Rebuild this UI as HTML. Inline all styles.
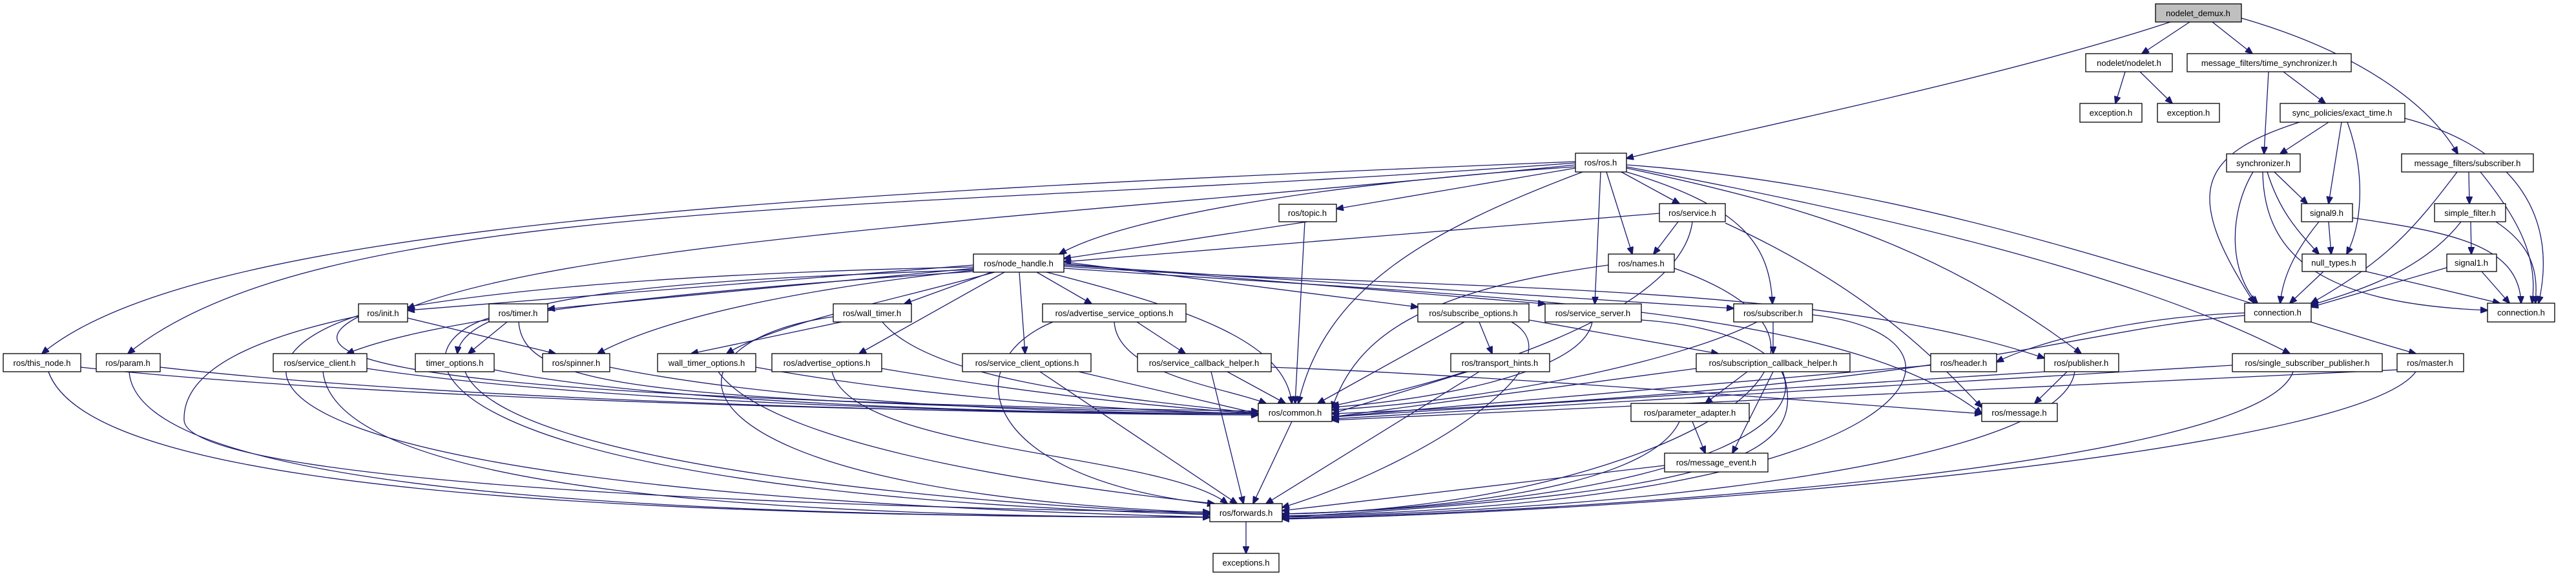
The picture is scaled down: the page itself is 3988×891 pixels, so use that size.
<!DOCTYPE html>
<html><head><meta charset="utf-8"><style>
html,body{margin:0;padding:0;background:#fff;}
svg{display:block;}
text{font-family:"Liberation Sans",sans-serif;font-size:13px;fill:#000;}
.n{fill:#fff;stroke:#000;stroke-width:1.3;}
.e{fill:none;stroke:#191970;stroke-width:1.3;}
</style></head><body>
<svg width="3988" height="891" viewBox="0 0 3988 891" xmlns="http://www.w3.org/2000/svg">
<defs><marker id="a" markerWidth="12" markerHeight="10" refX="11" refY="5" orient="auto" markerUnits="userSpaceOnUse"><path d="M0,0 L12,5 L0,10 z" fill="#191970" stroke="#191970"/></marker></defs>
<g class="e" marker-end="url(#a)">
<path d="M3360,34 C3100,120 2700,200 2518,245"/>
<path d="M3390,34 L3316,83"/>
<path d="M3425,34 L3487,83"/>
<path d="M3470,28 C3650,80 3760,160 3805,238"/>
<path d="M3290,111 L3275,160"/>
<path d="M3313,111 L3363,160"/>
<path d="M3512,111 L3505,238"/>
<path d="M3535,111 L3600,160"/>
<path d="M3605,189 L3530,238"/>
<path d="M3625,189 L3605,315"/>
<path d="M3634,189 C3660,260 3660,340 3633,393"/>
<path d="M3560,189 C3400,240 3380,300 3490,469"/>
<path d="M3723,183 C3900,230 3960,340 3930,469"/>
<path d="M3488,266 C3450,330 3450,420 3495,469"/>
<path d="M3521,266 L3572,315"/>
<path d="M3510,266 C3530,330 3560,360 3590,393"/>
<path d="M3503,266 C3505,400 3600,470 3851,480"/>
<path d="M3590,343 C3560,380 3535,420 3530,469"/>
<path d="M3605,343 L3609,393"/>
<path d="M3642,337 C3800,360 3900,380 3903,469"/>
<path d="M3597,420 L3545,469"/>
<path d="M3663,420 L3870,469"/>
<path d="M3804,266 C3740,350 3700,400 3578,469"/>
<path d="M3822,266 L3823,315"/>
<path d="M3840,266 C3900,340 3930,400 3920,469"/>
<path d="M3810,343 C3750,420 3650,450 3578,472"/>
<path d="M3825,343 L3826,393"/>
<path d="M3864,343 C3920,380 3930,420 3925,469"/>
<path d="M3788,414 L3578,475"/>
<path d="M3842,420 L3885,469"/>
<path d="M3475,484 C3300,490 3150,530 3091,560"/>
<path d="M3475,488 C3200,510 3050,600 2062,640"/>
<path d="M2439,250 C1200,300 300,350 65,547"/>
<path d="M2439,252 C1400,330 500,300 198,547"/>
<path d="M2439,255 C1700,330 900,370 631,477"/>
<path d="M2439,258 C2100,280 1750,330 1640,393"/>
<path d="M2439,260 L2069,323"/>
<path d="M2450,266 C2200,360 2050,450 2010,624"/>
<path d="M2487,266 L2527,393"/>
<path d="M2510,266 L2600,315"/>
<path d="M2478,266 L2469,470"/>
<path d="M2518,266 C2700,320 2740,380 2744,470"/>
<path d="M2518,260 C2800,320 3000,380 3222,547"/>
<path d="M2518,258 C2900,330 3300,420 3545,547"/>
<path d="M2518,255 C3000,290 3400,450 3740,547"/>
<path d="M2024,343 L1647,400"/>
<path d="M2020,343 L2005,624"/>
<path d="M2569,330 L1647,405"/>
<path d="M2598,343 L2560,393"/>
<path d="M2620,343 C2600,500 2200,600 2062,628"/>
<path d="M2671,345 C2900,450 3000,560 3068,630"/>
<path d="M2490,410 C2200,450 2100,520 2062,632"/>
<path d="M2592,415 C3000,560 2500,790 1985,795"/>
<path d="M1507,410 L631,480"/>
<path d="M1507,413 C700,430 280,500 285,650 C290,760 1500,790 1873,792"/>
<path d="M1507,415 L848,478"/>
<path d="M1507,417 C1200,430 720,440 708,547"/>
<path d="M1507,418 C1300,440 1050,480 925,547"/>
<path d="M1507,420 C1200,440 700,480 537,547"/>
<path d="M1535,421 L1400,470"/>
<path d="M1540,421 C1400,460 1200,500 1125,547"/>
<path d="M1555,421 L1330,547"/>
<path d="M1578,421 L1587,547"/>
<path d="M1605,421 L1690,470"/>
<path d="M1620,421 C1850,480 1990,530 2000,624"/>
<path d="M1647,405 L2195,475"/>
<path d="M1647,408 L2392,470"/>
<path d="M1647,410 L2684,477"/>
<path d="M1647,412 C2200,450 2800,430 3165,554"/>
<path d="M1647,415 C2300,460 2850,470 3068,640"/>
<path d="M555,488 C330,560 300,760 1873,800"/>
<path d="M555,490 C380,580 900,620 1948,636"/>
<path d="M631,492 L860,547"/>
<path d="M757,492 C600,540 620,760 1873,796"/>
<path d="M785,498 L725,547"/>
<path d="M803,498 C810,600 1000,620 1948,640"/>
<path d="M1303,498 L1070,547"/>
<path d="M1290,490 C1000,530 1000,760 1873,793"/>
<path d="M1366,498 C1450,600 1800,620 1948,640"/>
<path d="M1630,498 C1480,560 1510,740 1880,780"/>
<path d="M1725,498 C1730,580 1900,600 1960,624"/>
<path d="M1760,498 L1835,547"/>
<path d="M2267,498 L2040,624"/>
<path d="M2290,498 L2310,547"/>
<path d="M2340,498 C2450,560 2200,720 1985,785"/>
<path d="M2367,495 L2660,547"/>
<path d="M2465,498 C2450,580 2200,620 2062,630"/>
<path d="M2541,495 C2900,520 2900,770 1985,795"/>
<path d="M2720,498 C2600,560 2300,620 2062,634"/>
<path d="M2745,498 L2745,547"/>
<path d="M2806,487 C3100,520 3000,780 1985,798"/>
<path d="M75,575 C120,700 500,800 1873,800"/>
<path d="M125,568 C600,620 1500,640 1948,640"/>
<path d="M200,575 C210,720 700,800 1873,800"/>
<path d="M248,568 C700,620 1500,640 1948,642"/>
<path d="M500,575 C520,760 1200,800 1873,800"/>
<path d="M568,570 C900,620 1500,640 1948,640"/>
<path d="M720,575 C780,720 1500,780 1873,795"/>
<path d="M765,572 C1000,620 1500,640 1948,640"/>
<path d="M944,568 C1200,620 1600,640 1948,640"/>
<path d="M1112,575 C1200,700 1700,760 1880,779"/>
<path d="M1170,568 C1400,610 1700,635 1948,640"/>
<path d="M1288,575 C1320,700 1800,700 1900,779"/>
<path d="M1365,570 C1600,610 1800,630 1948,640"/>
<path d="M1610,575 L1915,779"/>
<path d="M1670,575 L1948,640"/>
<path d="M1875,575 L1925,779"/>
<path d="M1900,575 L1990,624"/>
<path d="M1968,568 C2300,580 2800,620 3068,640"/>
<path d="M2272,575 L2062,640"/>
<path d="M2290,575 L1960,779"/>
<path d="M2626,570 L2062,645"/>
<path d="M2705,575 L2640,624"/>
<path d="M2745,575 L2682,701"/>
<path d="M2760,575 C2800,700 2700,760 1985,800"/>
<path d="M2989,565 L2062,645"/>
<path d="M3165,575 L2062,645"/>
<path d="M3200,575 L3150,624"/>
<path d="M3212,575 C3190,720 2500,790 1985,800"/>
<path d="M3456,565 L2062,648"/>
<path d="M3550,575 C3500,720 2500,790 1985,802"/>
<path d="M3711,572 L2062,650"/>
<path d="M3740,575 C3650,700 2600,790 1985,803"/>
<path d="M2000,652 L1940,779"/>
<path d="M2620,652 L2640,701"/>
<path d="M2600,652 C2550,760 2200,790 1985,795"/>
<path d="M2577,720 L1985,790"/>
<path d="M1929,807 L1929,856"/>
</g>
<g>
<rect class="n" x="3337" y="6" width="133" height="28" style="fill:#bfbfbf"/><text x="3403" y="25" text-anchor="middle">nodelet_demux.h</text>
<rect class="n" x="3229" y="83" width="134" height="28"/><text x="3296" y="102" text-anchor="middle">nodelet/nodelet.h</text>
<rect class="n" x="3386" y="83" width="254" height="28"/><text x="3513" y="102" text-anchor="middle">message_filters/time_synchronizer.h</text>
<rect class="n" x="3220" y="160" width="96" height="29"/><text x="3268" y="179" text-anchor="middle">exception.h</text>
<rect class="n" x="3340" y="160" width="96" height="29"/><text x="3388" y="179" text-anchor="middle">exception.h</text>
<rect class="n" x="3530" y="160" width="193" height="29"/><text x="3626" y="179" text-anchor="middle">sync_policies/exact_time.h</text>
<rect class="n" x="3447" y="238" width="114" height="28"/><text x="3504" y="257" text-anchor="middle">synchronizer.h</text>
<rect class="n" x="3718" y="238" width="204" height="28"/><text x="3820" y="257" text-anchor="middle">message_filters/subscriber.h</text>
<rect class="n" x="3563" y="315" width="79" height="28"/><text x="3602" y="334" text-anchor="middle">signal9.h</text>
<rect class="n" x="3769" y="315" width="110" height="28"/><text x="3824" y="334" text-anchor="middle">simple_filter.h</text>
<rect class="n" x="3564" y="393" width="99" height="27"/><text x="3613" y="411" text-anchor="middle">null_types.h</text>
<rect class="n" x="3788" y="393" width="77" height="27"/><text x="3826" y="411" text-anchor="middle">signal1.h</text>
<rect class="n" x="3475" y="469" width="103" height="29"/><text x="3526" y="488" text-anchor="middle">connection.h</text>
<rect class="n" x="3851" y="469" width="104" height="29"/><text x="3903" y="488" text-anchor="middle">connection.h</text>
<rect class="n" x="2439" y="237" width="79" height="29"/><text x="2478" y="256" text-anchor="middle">ros/ros.h</text>
<rect class="n" x="1980" y="316" width="89" height="27"/><text x="2024" y="334" text-anchor="middle">ros/topic.h</text>
<rect class="n" x="2569" y="315" width="102" height="28"/><text x="2620" y="334" text-anchor="middle">ros/service.h</text>
<rect class="n" x="2490" y="393" width="102" height="28"/><text x="2541" y="412" text-anchor="middle">ros/names.h</text>
<rect class="n" x="1507" y="393" width="140" height="28"/><text x="1577" y="412" text-anchor="middle">ros/node_handle.h</text>
<rect class="n" x="555" y="470" width="76" height="28"/><text x="593" y="489" text-anchor="middle">ros/init.h</text>
<rect class="n" x="757" y="470" width="91" height="28"/><text x="802" y="489" text-anchor="middle">ros/timer.h</text>
<rect class="n" x="1290" y="470" width="121" height="28"/><text x="1350" y="489" text-anchor="middle">ros/wall_timer.h</text>
<rect class="n" x="1614" y="470" width="222" height="28"/><text x="1725" y="489" text-anchor="middle">ros/advertise_service_options.h</text>
<rect class="n" x="2195" y="470" width="172" height="28"/><text x="2281" y="489" text-anchor="middle">ros/subscribe_options.h</text>
<rect class="n" x="2392" y="470" width="149" height="28"/><text x="2466" y="489" text-anchor="middle">ros/service_server.h</text>
<rect class="n" x="2684" y="470" width="122" height="28"/><text x="2745" y="489" text-anchor="middle">ros/subscriber.h</text>
<rect class="n" x="5" y="547" width="120" height="28"/><text x="65" y="566" text-anchor="middle">ros/this_node.h</text>
<rect class="n" x="149" y="547" width="99" height="28"/><text x="198" y="566" text-anchor="middle">ros/param.h</text>
<rect class="n" x="423" y="547" width="145" height="28"/><text x="495" y="566" text-anchor="middle">ros/service_client.h</text>
<rect class="n" x="643" y="547" width="122" height="28"/><text x="704" y="566" text-anchor="middle">timer_options.h</text>
<rect class="n" x="840" y="547" width="104" height="28"/><text x="892" y="566" text-anchor="middle">ros/spinner.h</text>
<rect class="n" x="1018" y="547" width="152" height="28"/><text x="1094" y="566" text-anchor="middle">wall_timer_options.h</text>
<rect class="n" x="1195" y="547" width="170" height="28"/><text x="1280" y="566" text-anchor="middle">ros/advertise_options.h</text>
<rect class="n" x="1490" y="547" width="199" height="28"/><text x="1590" y="566" text-anchor="middle">ros/service_client_options.h</text>
<rect class="n" x="1761" y="547" width="207" height="28"/><text x="1864" y="566" text-anchor="middle">ros/service_callback_helper.h</text>
<rect class="n" x="2246" y="547" width="153" height="28"/><text x="2322" y="566" text-anchor="middle">ros/transport_hints.h</text>
<rect class="n" x="2626" y="547" width="238" height="28"/><text x="2745" y="566" text-anchor="middle">ros/subscription_callback_helper.h</text>
<rect class="n" x="2989" y="547" width="102" height="28"/><text x="3040" y="566" text-anchor="middle">ros/header.h</text>
<rect class="n" x="3165" y="547" width="115" height="28"/><text x="3222" y="566" text-anchor="middle">ros/publisher.h</text>
<rect class="n" x="3456" y="547" width="232" height="28"/><text x="3572" y="566" text-anchor="middle">ros/single_subscriber_publisher.h</text>
<rect class="n" x="3711" y="547" width="103" height="28"/><text x="3762" y="566" text-anchor="middle">ros/master.h</text>
<rect class="n" x="1948" y="624" width="114" height="28"/><text x="2005" y="643" text-anchor="middle">ros/common.h</text>
<rect class="n" x="2525" y="624" width="183" height="28"/><text x="2616" y="643" text-anchor="middle">ros/parameter_adapter.h</text>
<rect class="n" x="3068" y="624" width="117" height="28"/><text x="3126" y="643" text-anchor="middle">ros/message.h</text>
<rect class="n" x="2577" y="701" width="160" height="29"/><text x="2657" y="720" text-anchor="middle">ros/message_event.h</text>
<rect class="n" x="1873" y="779" width="112" height="28"/><text x="1929" y="798" text-anchor="middle">ros/forwards.h</text>
<rect class="n" x="1878" y="856" width="102" height="29"/><text x="1929" y="875" text-anchor="middle">exceptions.h</text>
</g>
</svg>
</body></html>
